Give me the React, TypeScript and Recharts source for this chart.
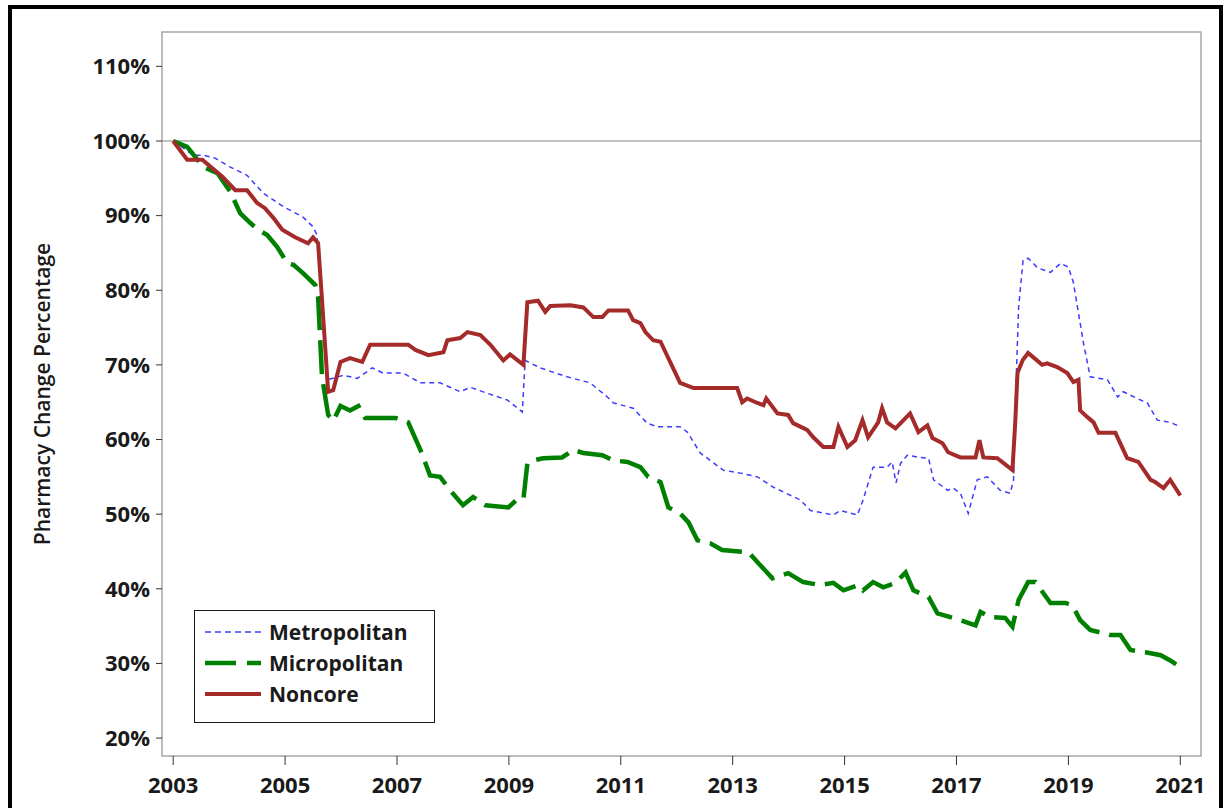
import { Legend, Line, LineChart, ReferenceArea, ReferenceLine, XAxis, YAxis } from 'recharts';

const FONT = '"Open Sans", "DejaVu Sans", sans-serif';

const YEAR_TICKS = [2003, 2005, 2007, 2009, 2011, 2013, 2015, 2017, 2019, 2021];
const PCT_TICKS = [20, 30, 40, 50, 60, 70, 80, 90, 100, 110];
const X_DOMAIN: [number, number] = [2002.8, 2021.37];
const Y_DOMAIN: [number, number] = [17.6, 114.6];

const metroYears = [
  2003.0, 2003.36, 2003.54, 2003.75, 2004.02, 2004.32, 2004.61, 2004.97, 2005.32, 2005.5,
  2005.57, 2005.66, 2005.75, 2006.04, 2006.29, 2006.56, 2006.75, 2007.11, 2007.42, 2007.77,
  2008.13, 2008.31, 2008.61, 2008.97, 2009.24, 2009.29, 2009.56, 2010.04, 2010.45, 2010.76,
  2010.87, 2011.22, 2011.47, 2011.65, 2012.06, 2012.19, 2012.42, 2012.83, 2013.14, 2013.44,
  2013.73, 2014.21, 2014.39, 2014.8, 2014.92, 2015.23, 2015.33, 2015.51, 2015.76, 2015.85,
  2015.92, 2016.0, 2016.12, 2016.35, 2016.5, 2016.59, 2016.84, 2016.94, 2017.07, 2017.21,
  2017.37, 2017.55, 2017.78, 2017.96, 2018.02, 2018.05, 2018.11, 2018.19, 2018.28, 2018.45,
  2018.68, 2018.86, 2019.0, 2019.09, 2019.27, 2019.39, 2019.7, 2019.88, 2019.98, 2020.29,
  2020.41, 2020.59, 2020.82, 2021.0,
];
const metroValues = [
  100, 98.1, 98.1, 97.7, 96.5, 95.4, 93.0, 91.2, 89.8, 88.5,
  87.4, 78.7, 68.0, 68.6, 68.2, 69.6, 68.9, 68.9, 67.6, 67.6,
  66.4, 67.0, 66.2, 65.3, 63.7, 70.6, 69.6, 68.4, 67.6, 65.7,
  64.9, 64.2, 62.2, 61.7, 61.7, 61.0, 58.2, 55.9, 55.5, 55.0,
  53.6, 51.9, 50.5, 49.9, 50.5, 49.9, 51.9, 56.3, 56.3, 57.0,
  54.2, 56.8, 57.9, 57.6, 57.5, 54.6, 53.2, 53.5, 52.8, 50.1,
  54.6, 55.0, 53.2, 52.8, 54.6, 64.3, 77.7, 84.0, 84.3, 83.0,
  82.4, 83.6, 83.1, 81.0, 72.9, 68.4, 68.0, 65.7, 66.4, 65.3,
  64.9, 62.6, 62.3, 61.7,
];

const microYears = [
  2003.0, 2003.25, 2003.39, 2003.54, 2003.79, 2004.02, 2004.2, 2004.38, 2004.52, 2004.68,
  2004.86, 2005.04, 2005.15, 2005.32, 2005.54, 2005.59, 2005.66, 2005.77, 2005.86, 2005.99,
  2006.16, 2006.31, 2006.43, 2006.97, 2007.2, 2007.42, 2007.59, 2007.77, 2007.95, 2008.18,
  2008.36, 2008.58, 2008.99, 2009.15, 2009.26, 2009.33, 2009.44, 2009.61, 2009.95, 2010.15,
  2010.33, 2010.67, 2010.87, 2011.12, 2011.35, 2011.49, 2011.71, 2011.85, 2012.06, 2012.21,
  2012.37, 2012.6, 2012.81, 2013.28, 2013.44, 2013.71, 2013.99, 2014.26, 2014.57, 2014.8,
  2014.98, 2015.25, 2015.33, 2015.51, 2015.69, 2015.91, 2016.09, 2016.23, 2016.5, 2016.66,
  2017.07, 2017.34, 2017.43, 2017.61, 2017.87, 2018.0, 2018.11, 2018.28, 2018.41, 2018.68,
  2018.95, 2019.07, 2019.21, 2019.39, 2019.75, 2019.93, 2020.11, 2020.38, 2020.65, 2020.82,
  2021.0,
];
const microValues = [
  100, 99.2, 97.9, 96.5, 95.7, 93.2, 90.3, 89.0, 88.1, 87.4,
  85.8, 83.6, 83.4, 82.3, 80.7, 79.1, 68.4, 63.3, 62.5, 64.5,
  63.9, 64.5, 62.9, 62.9, 62.3, 58.6, 55.2, 55.0, 53.2, 51.2,
  52.3, 51.2, 50.9, 52.0, 52.0, 56.8, 57.2, 57.5, 57.6, 58.6,
  58.2, 57.9, 57.2, 57.0, 56.3, 55.0, 54.3, 50.9, 50.1, 48.9,
  46.5, 46.1, 45.2, 44.9, 43.6, 41.4, 42.1, 40.9, 40.5, 40.8,
  39.8, 40.5, 39.8, 40.9, 40.2, 40.8, 42.2, 39.8, 38.9, 36.7,
  35.8, 35.1, 36.9, 36.2, 36.1, 34.9, 38.5, 40.9, 40.9, 38.1,
  38.1, 37.8, 35.8, 34.5, 33.8, 33.8, 31.8, 31.5, 31.1, 30.4,
  29.5,
];

const noncoreYears = [
  2003.0, 2003.25, 2003.52, 2003.88, 2004.11, 2004.32, 2004.5, 2004.64, 2004.79, 2004.95,
  2005.18, 2005.41, 2005.5, 2005.59, 2005.66, 2005.77, 2005.86, 2005.99, 2006.16, 2006.38,
  2006.52, 2006.7, 2007.2, 2007.33, 2007.56, 2007.83, 2007.9, 2008.13, 2008.26, 2008.49,
  2008.67, 2008.9, 2009.02, 2009.26, 2009.33, 2009.52, 2009.65, 2009.74, 2010.1, 2010.33,
  2010.51, 2010.67, 2010.78, 2011.13, 2011.22, 2011.35, 2011.44, 2011.58, 2011.71, 2012.06,
  2012.3, 2012.65, 2013.08, 2013.17, 2013.26, 2013.44, 2013.55, 2013.6, 2013.8, 2013.99,
  2014.08, 2014.33, 2014.44, 2014.62, 2014.8, 2014.89, 2015.05, 2015.19, 2015.32, 2015.42,
  2015.6, 2015.67, 2015.76, 2015.91, 2016.17, 2016.32, 2016.48, 2016.57, 2016.75, 2016.85,
  2017.07, 2017.34, 2017.41, 2017.48, 2017.73, 2018.0, 2018.05, 2018.09, 2018.18, 2018.28,
  2018.53, 2018.62, 2018.8, 2018.98, 2019.09, 2019.18, 2019.21, 2019.34, 2019.45, 2019.54,
  2019.84, 2020.05, 2020.25, 2020.47, 2020.55, 2020.7, 2020.82, 2021.0,
];
const noncoreValues = [
  100, 97.5, 97.5, 95.2, 93.4, 93.4, 91.7, 91.0, 89.7, 88.1,
  87.1, 86.3, 87.1, 86.3, 78.7, 66.4, 66.6, 70.4, 70.9, 70.4,
  72.7, 72.7, 72.7, 72.0, 71.3, 71.7, 73.3, 73.6, 74.4, 74.0,
  72.7, 70.6, 71.4, 70.0, 78.4, 78.6, 77.1, 77.9, 78.0, 77.7,
  76.4, 76.4, 77.3, 77.3, 76.0, 75.6, 74.4, 73.3, 73.1, 67.6,
  66.9, 66.9, 66.9, 65.0, 65.5, 64.9, 64.6, 65.5, 63.5, 63.3,
  62.2, 61.3, 60.3, 59.0, 59.0, 61.7, 59.0, 59.9, 62.6, 60.3,
  62.3, 64.2, 62.3, 61.5, 63.5, 61.0, 61.9, 60.2, 59.5, 58.3,
  57.6, 57.6, 59.9, 57.6, 57.5, 55.9, 62.3, 68.9, 70.6, 71.6,
  70.0, 70.2, 69.7, 68.9, 67.7, 68.0, 63.9, 63.0, 62.3, 60.9,
  60.9, 57.5, 57.0, 54.6, 54.3, 53.5, 54.6, 52.5,
];

const SERIES = [
  { name: 'Metropolitan', years: metroYears, values: metroValues, color: '#3d3dff', width: 1.5, dash: '5 4' },
  { name: 'Micropolitan', years: microYears, values: microValues, color: '#008000', width: 4.5, dash: '34 10' },
  { name: 'Noncore', years: noncoreYears, values: noncoreValues, color: '#a52a2a', width: 4, dash: undefined },
];

function toPoints(years: number[], values: number[]) {
  return years.map((year, i) => ({ year, value: values[i] }));
}

function FigureLegend() {
  return (
    <div
      style={{
        width: 241,
        height: 113,
        boxSizing: 'border-box',
        border: '1.5px solid #1a1a1a',
        background: '#fff',
        paddingTop: 5,
      }}
    >
      {SERIES.map((s) => (
        <div key={s.name} style={{ display: 'flex', alignItems: 'center', height: 31 }}>
          <svg width={66} height={10}>
            <line
              x1={10}
              x2={66}
              y1={5}
              y2={5}
              stroke={s.color}
              strokeWidth={s.width}
              strokeDasharray={s.name === 'Metropolitan' ? '6 4' : s.name === 'Micropolitan' ? '31 11' : undefined}
            />
          </svg>
          <span style={{ marginLeft: 8, fontFamily: FONT, fontSize: 21, fontWeight: 700, color: '#1a1a1a' }}>
            {s.name}
          </span>
        </div>
      ))}
    </div>
  );
}

function AxisTitle({ viewBox }: any) {
  const cy = viewBox.y + viewBox.height / 2;
  return (
    <text
      x={42}
      y={cy}
      transform={`rotate(-90, 42, ${cy})`}
      textAnchor="middle"
      dominantBaseline="central"
      fontFamily={FONT}
      fontSize={21}
      fontWeight={600}
      fill="#1a1a1a"
    >
      Pharmacy Change Percentage
    </text>
  );
}

export default function App() {
  const tickStyle = { fill: '#1a1a1a', fontSize: 22, fontWeight: 700, fontFamily: FONT };
  return (
    <div style={{ position: 'absolute', left: 0, top: 0, width: 1225, height: 808, overflow: 'hidden', background: '#fff' }}>
      <div
        style={{
          position: 'absolute',
          left: 8,
          top: 5,
          width: 1215,
          height: 840,
          boxSizing: 'border-box',
          borderTop: '4px solid #000',
          borderLeft: '4px solid #000',
          borderRight: '4px solid #000',
        }}
      />
      <LineChart width={1225} height={808} margin={{ top: 32, right: 24, bottom: 12, left: 0 }}>
        <XAxis
          type="number"
          dataKey="year"
          domain={X_DOMAIN}
          ticks={YEAR_TICKS}
          interval={0}
          allowDataOverflow
          axisLine={false}
          tickLine={{ stroke: '#333' }}
          tickSize={9}
          tickMargin={12}
          height={40}
          tick={tickStyle}
        />
        <YAxis
          type="number"
          domain={Y_DOMAIN}
          ticks={PCT_TICKS}
          interval={0}
          allowDataOverflow
          axisLine={false}
          tickLine={{ stroke: '#333' }}
          tickSize={6}
          tickMargin={6}
          width={162}
          tick={tickStyle}
          tickFormatter={(v: number) => `${v}%`}
          label={<AxisTitle />}
        />
        <ReferenceArea
          x1={X_DOMAIN[0]}
          x2={X_DOMAIN[1]}
          y1={Y_DOMAIN[0]}
          y2={Y_DOMAIN[1]}
          fill="none"
          stroke="#a6a6a6"
          strokeWidth={1.5}
          fillOpacity={0}
        />
        <ReferenceLine y={100} stroke="#808080" strokeWidth={1} />
        {SERIES.map((s) => (
          <Line
            key={s.name}
            name={s.name}
            data={toPoints(s.years, s.values)}
            dataKey="value"
            type="linear"
            stroke={s.color}
            strokeWidth={s.width}
            strokeDasharray={s.dash}
            dot={false}
            activeDot={false}
            isAnimationActive={false}
          />
        ))}
        <Legend
          layout="horizontal"
          verticalAlign="middle"
          align="center"
          content={<FigureLegend />}
          wrapperStyle={{ position: 'absolute', left: 194, top: 610, width: 241, height: 113 }}
        />
      </LineChart>
    </div>
  );
}
